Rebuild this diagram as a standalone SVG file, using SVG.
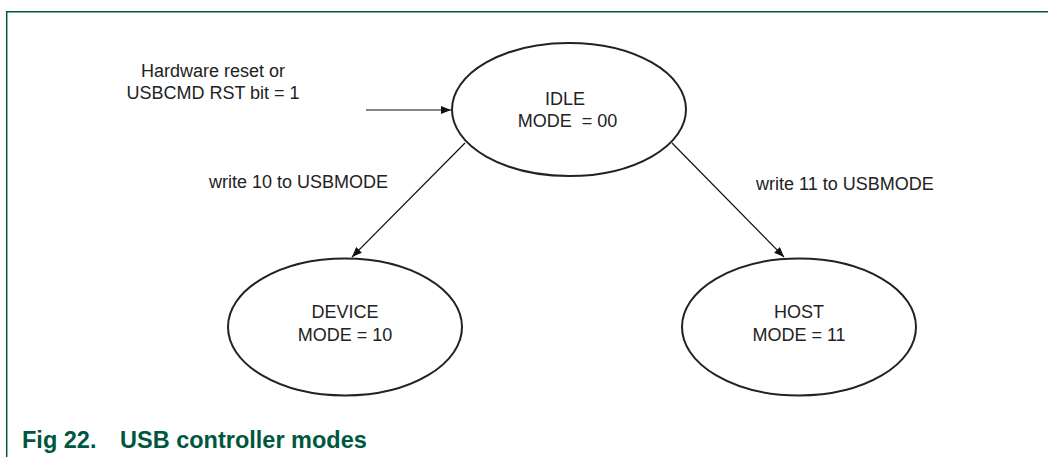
<svg xmlns="http://www.w3.org/2000/svg" width="1048" height="457" viewBox="0 0 1048 457">
<style>
.node{fill:#fff;stroke:#222;stroke-width:2}
.t{font-family:"Liberation Sans",Arial,sans-serif;font-size:18px;fill:#222;text-anchor:middle}
.lbl{font-family:"Liberation Sans",Arial,sans-serif;font-size:18px;fill:#222}
.edge{stroke:#111;stroke-width:1.2;fill:none;marker-end:url(#ah)}
.cap{font-family:"Liberation Sans",Arial,sans-serif;font-size:23.5px;font-weight:bold;fill:#00573F}
</style>
<defs>
<marker id="ah" viewBox="0 0 10 8" refX="10" refY="4" markerWidth="10" markerHeight="8" markerUnits="userSpaceOnUse" orient="auto">
<path d="M0,0 L10,4 L0,8 Z" fill="#111"/>
</marker>
</defs>
<rect width="1048" height="457" fill="#fff"/>
<path d="M6.7,457 V11.7 H1048" fill="none" stroke="#00573F" stroke-width="1.5"/>
<g id="connectors">
<line class="edge" x1="366" y1="110" x2="451" y2="110"/>
<line class="edge" x1="465" y1="143" x2="352" y2="257"/>
<line class="edge" x1="672" y1="143" x2="784" y2="257"/>
</g>
<g id="entry-label">
<text class="t" x="213" y="77">Hardware reset or</text>
<text class="t" x="213" y="99">USBCMD RST bit = 1</text>
</g>
<g id="edge-labels">
<text class="lbl" x="209" y="188">write 10 to USBMODE</text>
<text class="lbl" x="756" y="190">write 11 to USBMODE</text>
</g>
<g id="idle">
<ellipse class="node" cx="569" cy="109.5" rx="117" ry="66.5"/>
<text class="t" x="565" y="105">IDLE</text>
<text class="t" x="567.5" y="127" xml:space="preserve">MODE  = 00</text>
</g>
<g id="device">
<ellipse class="node" cx="345" cy="327" rx="117" ry="68.5"/>
<text class="t" x="345" y="318">DEVICE</text>
<text class="t" x="345" y="341">MODE = 10</text>
</g>
<g id="host">
<ellipse class="node" cx="799" cy="327" rx="117" ry="68.5"/>
<text class="t" x="799" y="318">HOST</text>
<text class="t" x="799" y="341">MODE = 11</text>
</g>
<g id="caption">
<text class="cap" y="448"><tspan x="22">Fig 22.</tspan><tspan x="120">USB controller modes</tspan></text>
</g>
</svg>
